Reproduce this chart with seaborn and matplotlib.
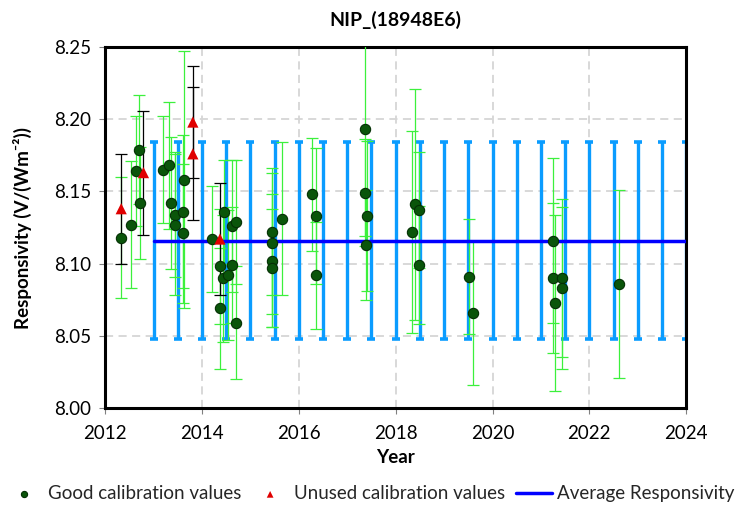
import matplotlib
matplotlib.use("Agg")
import matplotlib.pyplot as plt
import seaborn as sns
import pandas as pd

# calibration results
good_year = [2012.33, 2012.54, 2012.63, 2012.69, 2012.71,
             2013.19, 2013.32, 2013.36, 2013.45, 2013.45, 2013.60, 2013.60, 2013.63,
             2014.21, 2014.38, 2014.38, 2014.44, 2014.45, 2014.54, 2014.61, 2014.61, 2014.70, 2014.70,
             2015.44, 2015.44, 2015.44, 2015.44, 2015.66,
             2016.28, 2016.36, 2016.36,
             2017.36, 2017.36, 2017.40, 2017.39,
             2018.33, 2018.40, 2018.49, 2018.49,
             2019.52, 2019.59,
             2021.25, 2021.25, 2021.29, 2021.43, 2021.43,
             2022.62]
good_value = [8.118, 8.127, 8.164, 8.179, 8.142,
              8.165, 8.168, 8.142, 8.134, 8.127, 8.136, 8.121, 8.158,
              8.117, 8.098, 8.069, 8.090, 8.136, 8.092, 8.126, 8.099, 8.129, 8.059,
              8.122, 8.114, 8.102, 8.097, 8.131,
              8.148, 8.133, 8.092,
              8.193, 8.149, 8.133, 8.113,
              8.122, 8.141, 8.137, 8.099,
              8.091, 8.066,
              8.116, 8.090, 8.073, 8.090, 8.083,
              8.086]
good_err = [0.042, 0.044, 0.038, 0.038, 0.039,
            0.037, 0.044, 0.046, 0.043, 0.049, 0.053, 0.048, 0.089,
            0.037, 0.040, 0.042, 0.044, 0.036, 0.045, 0.046, 0.040, 0.043, 0.039,
            0.044, 0.049, 0.046, 0.041, 0.053,
            0.039, 0.047, 0.037,
            0.074, 0.037, 0.052, 0.038,
            0.070, 0.080, 0.040, 0.041,
            0.040, 0.050,
            0.057, 0.052, 0.061, 0.055, 0.056,
            0.065]

unused_year = [2012.33, 2012.79, 2013.81, 2013.81, 2014.37]
unused_value = [8.138, 8.163, 8.198, 8.176, 8.117]
unused_err = [0.038, 0.043, 0.039, 0.046, 0.039]

avg_years = [2013.0, 2013.5, 2014.0, 2014.5, 2015.0, 2015.5, 2016.0, 2016.5,
             2017.0, 2017.5, 2018.0, 2018.5, 2019.0, 2019.5, 2020.0, 2020.5,
             2021.0, 2021.5, 2022.0, 2022.5, 2023.0, 2023.5, 2024.0]
avg_resp = 8.116
avg_err = 0.068

good_df = pd.DataFrame({"Year": good_year, "Responsivity": good_value})
unused_df = pd.DataFrame({"Year": unused_year, "Responsivity": unused_value})

sns.set_style("white")
plt.rcParams['font.family'] = ['Lato', 'DejaVu Sans']

fig, ax = plt.subplots(figsize=(7.41, 5.05), dpi=100)
fig.subplots_adjust(left=0.142, right=0.926, top=0.907, bottom=0.192)

# uncertainty band of the average, drawn as half-yearly bars
ax.errorbar(avg_years, [avg_resp] * len(avg_years), yerr=avg_err, fmt='none',
            ecolor='#0a9cff', elinewidth=2.4, capsize=3, capthick=2.6, zorder=2)
ax.errorbar(good_year, good_value, yerr=good_err, fmt='none', ecolor='#3cf03c',
            elinewidth=0.9, capsize=4, capthick=0.9, zorder=3)
ax.errorbar(unused_year, unused_value, yerr=unused_err, fmt='none', ecolor='black',
            elinewidth=0.9, capsize=4.5, capthick=0.9, zorder=3)

sns.scatterplot(data=good_df, x="Year", y="Responsivity", marker='o', s=55,
                color='#0a550a', edgecolor='#043004', linewidth=0.8,
                label='Good calibration values', zorder=5, ax=ax)
sns.scatterplot(data=unused_df, x="Year", y="Responsivity", marker='^', s=65,
                color='#e00000', edgecolor='none',
                label='Unused calibration values', zorder=5, ax=ax)
sns.lineplot(x=[avg_years[0], avg_years[-1]], y=[avg_resp, avg_resp], color='#0000ff',
             linewidth=2.5, label='Average Responsivity', zorder=4, ax=ax)

ax.set_xlim(2012, 2024)
ax.set_ylim(8.00, 8.25)
ax.set_xticks([2012, 2014, 2016, 2018, 2020, 2022, 2024])
ax.set_yticks([8.00, 8.05, 8.10, 8.15, 8.20, 8.25])
ax.set_yticklabels(["8.00", "8.05", "8.10", "8.15", "8.20", "8.25"])
ax.grid(True, linestyle=(0, (4.5, 3)), color='#d6d6d6', linewidth=1.3)
ax.set_axisbelow(True)
for s in ax.spines.values():
    s.set_color('black')
    s.set_linewidth(2.2)

ax.tick_params(axis='both', bottom=True, left=True, length=4, color='gray',
               labelsize=13.5, labelcolor='black')
ax.tick_params(axis='x', pad=8)
ax.tick_params(axis='y', pad=6)
ax.set_title("NIP_(18948E6)", fontweight='bold', fontsize=14, pad=15, color='black')
ax.set_xlabel("Year", fontweight='bold', fontsize=13.5, color='black', labelpad=5)
ax.set_ylabel("Responsivity (V/(Wm⁻²))", fontweight='bold', fontsize=13.5,
              color='black', labelpad=16)

handles, labels = ax.get_legend_handles_labels()
ax.get_legend().remove()
fig.legend(handles, labels, loc='lower center', bbox_to_anchor=(0.5, -0.028), ncol=3,
           frameon=False, fontsize=13.5, handlelength=1.9, columnspacing=0.6,
           handletextpad=0.3, markerscale=0.6)

plt.savefig("out.png", dpi=100)
